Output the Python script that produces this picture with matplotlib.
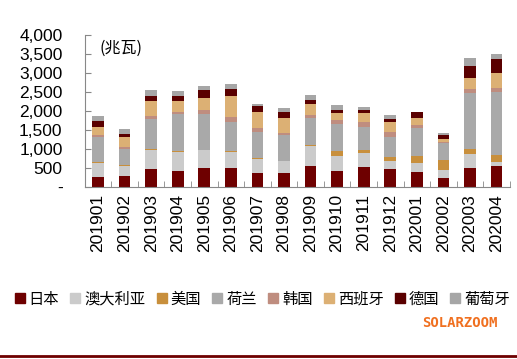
import numpy as np
import matplotlib
matplotlib.use('Agg')
import matplotlib.pyplot as plt
from matplotlib.lines import Line2D

plt.rcParams['font.family'] = ['Noto Sans CJK SC', 'DejaVu Sans']

months = ['201901', '201902', '201903', '201904', '201905', '201906', '201907', '201908',
          '201909', '201910', '201911', '201912', '202001', '202002', '202003', '202004']

japan     = [265, 291, 468, 415, 512, 503, 380, 371, 565, 424, 521, 486, 389, 238, 503, 556]
australia = [371, 265, 512, 512, 450, 424, 362, 309, 503, 397, 380, 194, 247, 204, 354, 89]
usa       = [20, 15, 20, 15, 15, 20, 15, 15, 45, 133, 70, 97, 185, 273, 150, 194]
netherl   = [650, 427, 784, 965, 939, 775, 700, 674, 705, 697, 618, 548, 742, 433, 1457, 1660]
korea     = [62, 62, 71, 62, 115, 115, 97, 62, 88, 106, 133, 132, 62, 35, 115, 97]
spain     = [203, 256, 397, 292, 318, 556, 415, 388, 274, 186, 221, 256, 194, 89, 291, 406]
germany   = [176, 70, 150, 141, 212, 194, 151, 141, 106, 70, 70, 71, 141, 106, 309, 371]
portugal  = [115, 142, 159, 115, 106, 133, 70, 115, 133, 133, 89, 115, 20, 35, 203, 115]

series = [
    ('日本', japan, '#6e0000'),
    ('澳大利亚', australia, '#cbcbcb'),
    ('美国', usa, '#c88f3c'),
    ('荷兰', netherl, '#a9a9a9'),
    ('韩国', korea, '#bf8d7f'),
    ('西班牙', spain, '#dcb074'),
    ('德国', germany, '#5a0000'),
    ('葡萄牙', portugal, '#a6a6a6'),
]

fig = plt.figure(figsize=(5.17, 3.59), dpi=100)
ax = fig.add_axes([0.164, 0.479, 0.822, 0.424])

x = np.arange(len(months))
bottom = np.zeros(len(months))
for name, vals, color in series:
    ax.bar(x, vals, width=0.44, bottom=bottom, color=color, label=name)
    bottom += np.array(vals)

ax.set_xlim(-0.5, len(months) - 0.5)
ax.set_ylim(0, 4000)
ax.set_yticks(np.arange(0, 4001, 500))
ax.set_yticklabels(['-'] + [f'{v:,}' for v in range(500, 4001, 500)],
                   family=['Liberation Sans', 'DejaVu Sans'], fontsize=12.5)
ax.set_xticks(x)
ax.set_xticklabels(months, rotation=90, family=['Liberation Sans', 'DejaVu Sans'], fontsize=12.5)
ax.tick_params(axis='x', length=0, pad=5)
ax.tick_params(axis='y', direction='in', length=4, color='#888888', pad=16)
# minor ticks between the categories
ax.set_xticks(np.arange(-0.5, len(months), 1), minor=True)
ax.tick_params(axis='x', which='minor', direction='in', length=4, color='#888888')

for side in ['top', 'right']:
    ax.spines[side].set_visible(False)
for side in ['left', 'bottom']:
    ax.spines[side].set_color('#888888')

ax.text(0.035, 0.97, '(兆瓦)', transform=ax.transAxes, fontsize=11.5, va='top', ha='left')

handles = [Line2D([], [], marker='s', linestyle='', markersize=7, color=c) for _, _, c in series]
fig.legend(handles, [n for n, _, _ in series], loc='center', bbox_to_anchor=(0.508, 0.167),
           ncol=8, frameon=False, fontsize=11, handlelength=0.6, handletextpad=0.3,
           columnspacing=0.75, borderaxespad=0)

fig.text(0.962, 0.1, 'SOLARZOOM', color='#f07020', fontsize=10, ha='right', va='center',
         family=['DejaVu Sans Mono'], weight='bold')
fig.add_artist(Line2D([0, 1], [0.008, 0.008], transform=fig.transFigure, color='#6e0000', lw=2))

fig.savefig('out.png', dpi=100)
